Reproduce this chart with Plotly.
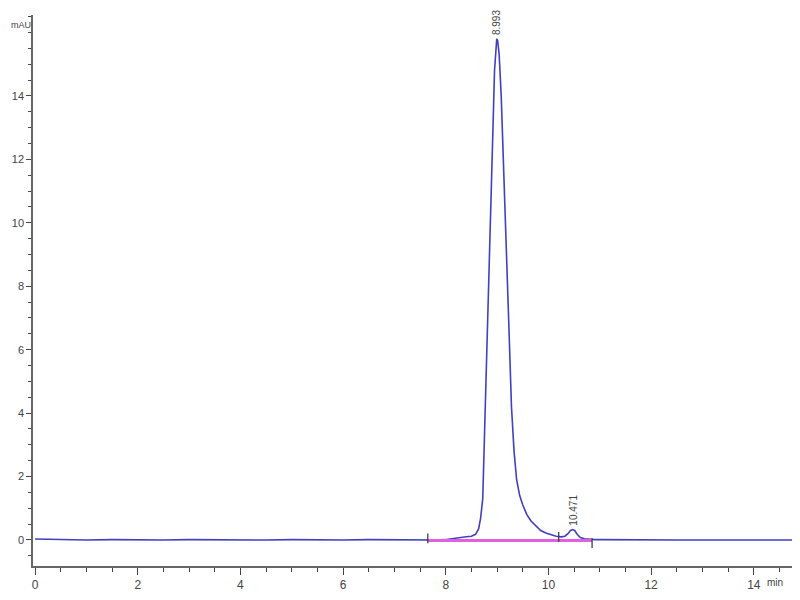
import plotly.graph_objects as go

# Chromatogram signal (time in min, absorbance in mAU)
time_min = [0.0, 0.3, 0.6, 1.0, 1.5, 2.0, 2.5, 3.0, 3.5, 4.0, 4.5, 5.0, 5.5, 6.0, 6.5, 7.0,
            7.3, 7.5, 7.65, 7.8, 7.98, 8.1, 8.2, 8.3, 8.4, 8.5, 8.58, 8.64, 8.68, 8.72,
            8.76, 8.80, 8.84, 8.88, 8.92, 8.95, 8.98, 8.993, 9.01, 9.04, 9.08, 9.12,
            9.17, 9.22, 9.28, 9.33, 9.38, 9.44, 9.50, 9.58, 9.66, 9.75, 9.85, 9.95,
            10.05, 10.15, 10.25, 10.32, 10.38, 10.43, 10.471, 10.51, 10.56, 10.62,
            10.7, 10.8, 10.9, 11.0, 11.5, 12.0, 12.5, 13.0, 13.5, 14.0, 14.5, 14.93]
signal_mau = [0.03, 0.02, 0.01, 0.0, 0.01, 0.0, 0.0, 0.01, 0.0, 0.0, 0.0, 0.01, 0.0, 0.0, 0.01, 0.0,
              0.0, 0.01, 0.0, 0.0, 0.01, 0.04, 0.07, 0.09, 0.10, 0.12, 0.18, 0.35, 0.7, 1.3,
              3.6, 5.5, 7.6, 10.2, 13.0, 14.8, 15.7, 15.8, 15.75, 15.3, 14.0, 12.2,
              9.8, 7.2, 4.2, 2.8, 1.9, 1.4, 1.1, 0.8, 0.6, 0.45, 0.3, 0.22,
              0.16, 0.12, 0.10, 0.12, 0.20, 0.30, 0.33, 0.30, 0.18, 0.08,
              0.04, 0.02, 0.01, 0.01, 0.0, 0.01, 0.0, 0.0, 0.01, 0.0, 0.0, 0.0]

# Integration baseline
baseline_time = [7.65, 10.85]
baseline_mau = [-0.02, -0.02]

# Integration event marks
event_time = [7.65, 10.2, 10.85]
event_mau = [0.05, 0.1, -0.1]

# Peak labels
peak_time = [8.993, 10.471]
peak_height = [15.8, 0.33]
peak_text = ["8.993", "10.471"]

x_ticks = [0, 2, 4, 6, 8, 10, 12, 14]
y_ticks = [0, 2, 4, 6, 8, 10, 12, 14]

fig = go.Figure()
fig.add_trace(go.Scatter(x=time_min, y=signal_mau, mode="lines",
                         line=dict(color="#4040c0", width=1.6), hoverinfo="skip"))
fig.add_trace(go.Scatter(x=baseline_time, y=baseline_mau, mode="lines",
                         line=dict(color="#e060e0", width=3), hoverinfo="skip"))
fig.add_trace(go.Scatter(x=event_time, y=event_mau, mode="markers",
                         marker=dict(symbol="line-ns", size=7,
                                     line=dict(color="#333333", width=1.2)),
                         hoverinfo="skip"))

for t, h, s in zip(peak_time, peak_height, peak_text):
    fig.add_annotation(x=t, y=h, text=s, textangle=-90, showarrow=False,
                       xanchor="center", yanchor="bottom", yshift=2,
                       font=dict(size=10, color="#444444", family="Liberation Sans"))

fig.add_annotation(xref="paper", yref="paper", x=-0.031, y=0.995, text="mAU",
                   showarrow=False, xanchor="left", yanchor="top",
                   font=dict(size=9, color="#444444", family="Liberation Sans"))
fig.add_annotation(xref="paper", yref="paper", x=0.98, y=-0.03, text="min",
                   showarrow=False, xanchor="right", yanchor="middle",
                   font=dict(size=10, color="#444444", family="Liberation Sans"))

fig.update_layout(
    width=792, height=592,
    margin=dict(l=25, r=0, t=7, b=34),
    paper_bgcolor="white", plot_bgcolor="white",
    showlegend=False,
    font=dict(family="Liberation Sans", size=12, color="#444444"),
    xaxis=dict(range=[-0.04, 14.9], tickvals=x_ticks, ticks="outside", ticklen=7,
               tickcolor="#444444", showline=True, linecolor="#666666", linewidth=1.5,
               showgrid=False, zeroline=False, automargin=False,
               minor=dict(dtick=0.5, tick0=0, ticks="outside", ticklen=4,
                          tickcolor="#444444", showgrid=False)),
    yaxis=dict(range=[-0.82, 16.55], tickvals=y_ticks, ticks="outside", ticklen=5,
               tickcolor="#444444", showline=True, linecolor="#666666", linewidth=1.5,
               showgrid=False, zeroline=False, tickfont=dict(size=11), automargin=False,
               minor=dict(dtick=0.5, tick0=0, ticks="outside", ticklen=3,
                          tickcolor="#444444", showgrid=False)),
)

fig.write_html("out.html")
